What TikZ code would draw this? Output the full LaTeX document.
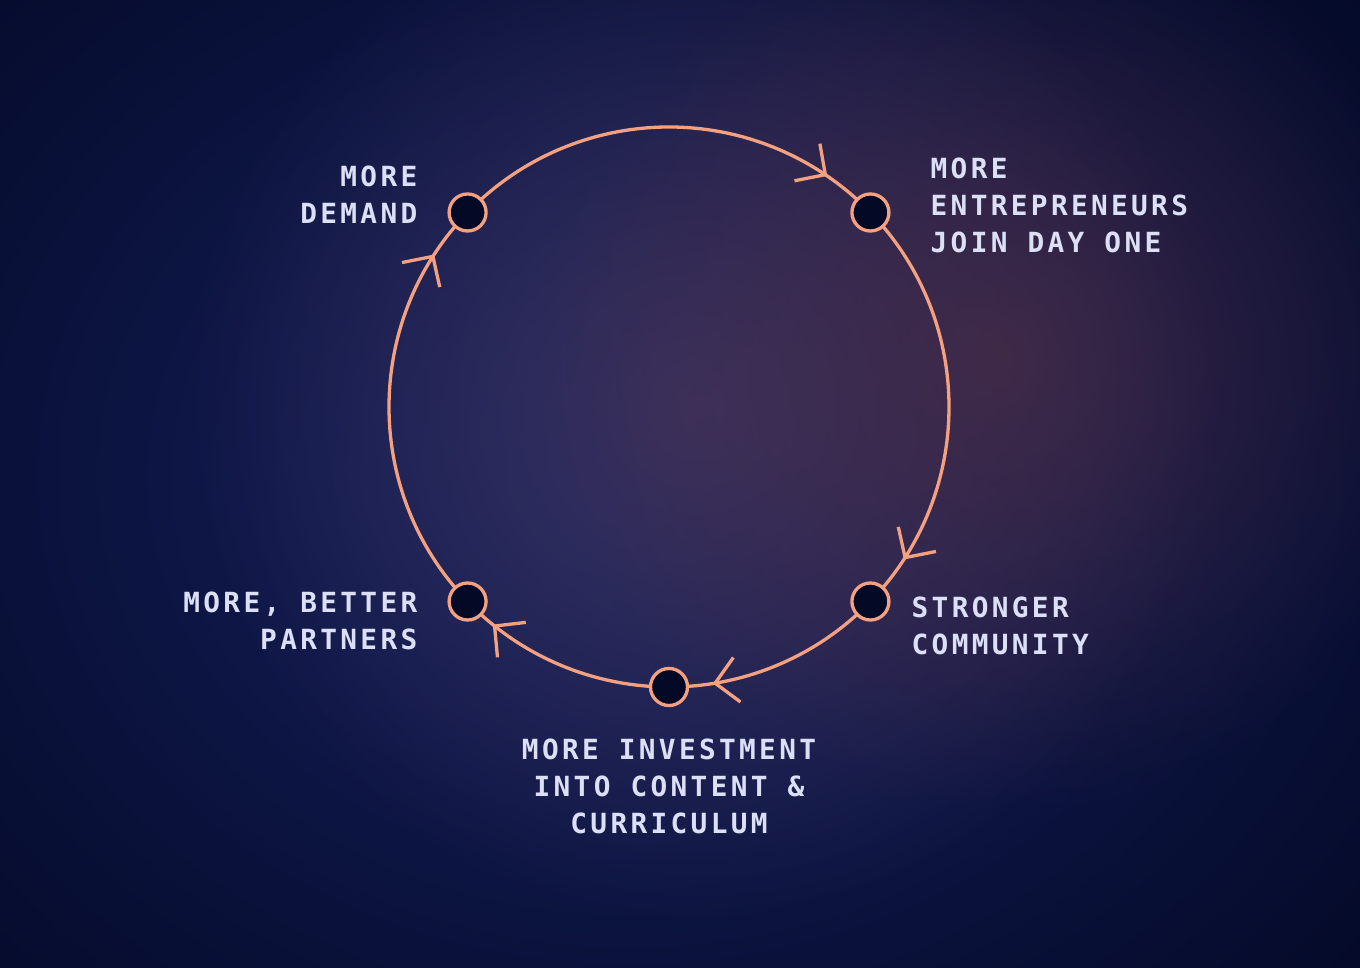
\documentclass[tikz,border=0pt]{standalone}
\usepackage{fontspec}
\newfontfamily\loopfont{DejaVu Sans Mono}[LetterSpace=12]
\usetikzlibrary{arrows.meta,decorations.markings,fadings,positioning}

\definecolor{bgdark}{HTML}{040926}
\definecolor{navyglow}{HTML}{15215E}
\definecolor{violetglow}{HTML}{3A325F}
\definecolor{roseglow}{HTML}{4A2C45}
\definecolor{salmon}{HTML}{F4A182}
\definecolor{labeltext}{HTML}{DCE0F7}

\tikzfading[name=glow fade, inner color=transparent!0, outer color=transparent!100]

\begin{document}
\begin{tikzpicture}[
font=\loopfont\bfseries\fontsize{7.9pt}{10.5pt}\selectfont,
ring/.style={draw=salmon, line width=0.033cm, postaction={decorate},
  decoration={markings, mark=at position #1 with {\arrow{Straight Barb[length=0.22cm, width=0.45cm]}}}},
dot/.style={circle, draw=salmon, fill=bgdark, line width=0.033cm, minimum size=0.37cm, inner sep=0pt},
lbl/.style={text=labeltext, inner sep=0pt}
]
    % Background
    \useasboundingbox (0,0) rectangle (13.6,9.67);
    \fill[bgdark] (-0.1,-0.1) rectangle (13.7,9.77);
    \fill[navyglow, path fading=glow fade] (6.3,4.9) ellipse (10 and 8.2);
    \fill[violetglow, path fading=glow fade] (7.0,5.6) ellipse (5.2 and 5.2);
    \fill[roseglow, path fading=glow fade, fill opacity=0.75] (10.0,6.1) ellipse (4.6 and 4.6);

    % Centre of the loop
    \coordinate (c) at (6.69,5.60);

    % Dots on the loop
    \path (c) ++(136:2.8) coordinate (p1)
          (c) ++(44:2.8)  coordinate (p2)
          (c) ++(-44:2.8) coordinate (p3)
          (c) ++(-90:2.8) coordinate (p4)
          (c) ++(-136:2.8) coordinate (p5);

    % The loop, clockwise
    \draw[ring=0.874] (p1) arc[start angle=136, end angle=44, radius=2.8];
    \draw[ring=0.875] (p2) arc[start angle=44, end angle=-44, radius=2.8];
    \draw[ring=0.804] (p3) arc[start angle=-44, end angle=-90, radius=2.8];
    \draw[ring=0.848] (p4) arc[start angle=-90, end angle=-136, radius=2.8];
    \draw[ring=0.875] (p5) arc[start angle=224, end angle=136, radius=2.8];

    \node[dot] (demand) at (p1) {};
    \node[dot] (entrepreneurs) at (p2) {};
    \node[dot] (community) at (p3) {};
    \node[dot] (investment) at (p4) {};
    \node[dot] (partners) at (p5) {};

    % Labels
    \node[lbl, align=right, anchor=east] (demandtxt) at (4.18,7.72) {MORE\\DEMAND};
    \node[lbl, align=left, anchor=west] (entretxt) at (9.30,7.62) {MORE\\ENTREPRENEURS\\JOIN DAY ONE};
    \node[lbl, align=left, anchor=west] (commtxt) at (9.11,3.41) {STRONGER\\COMMUNITY};
    \node[lbl, align=center] (investtxt) at (6.69,1.81) {MORE INVESTMENT\\INTO CONTENT \&\\CURRICULUM};
    \node[lbl, align=right, anchor=east] (partnerstxt) at (4.18,3.46) {MORE, BETTER\\PARTNERS};
\end{tikzpicture}
\end{document}
